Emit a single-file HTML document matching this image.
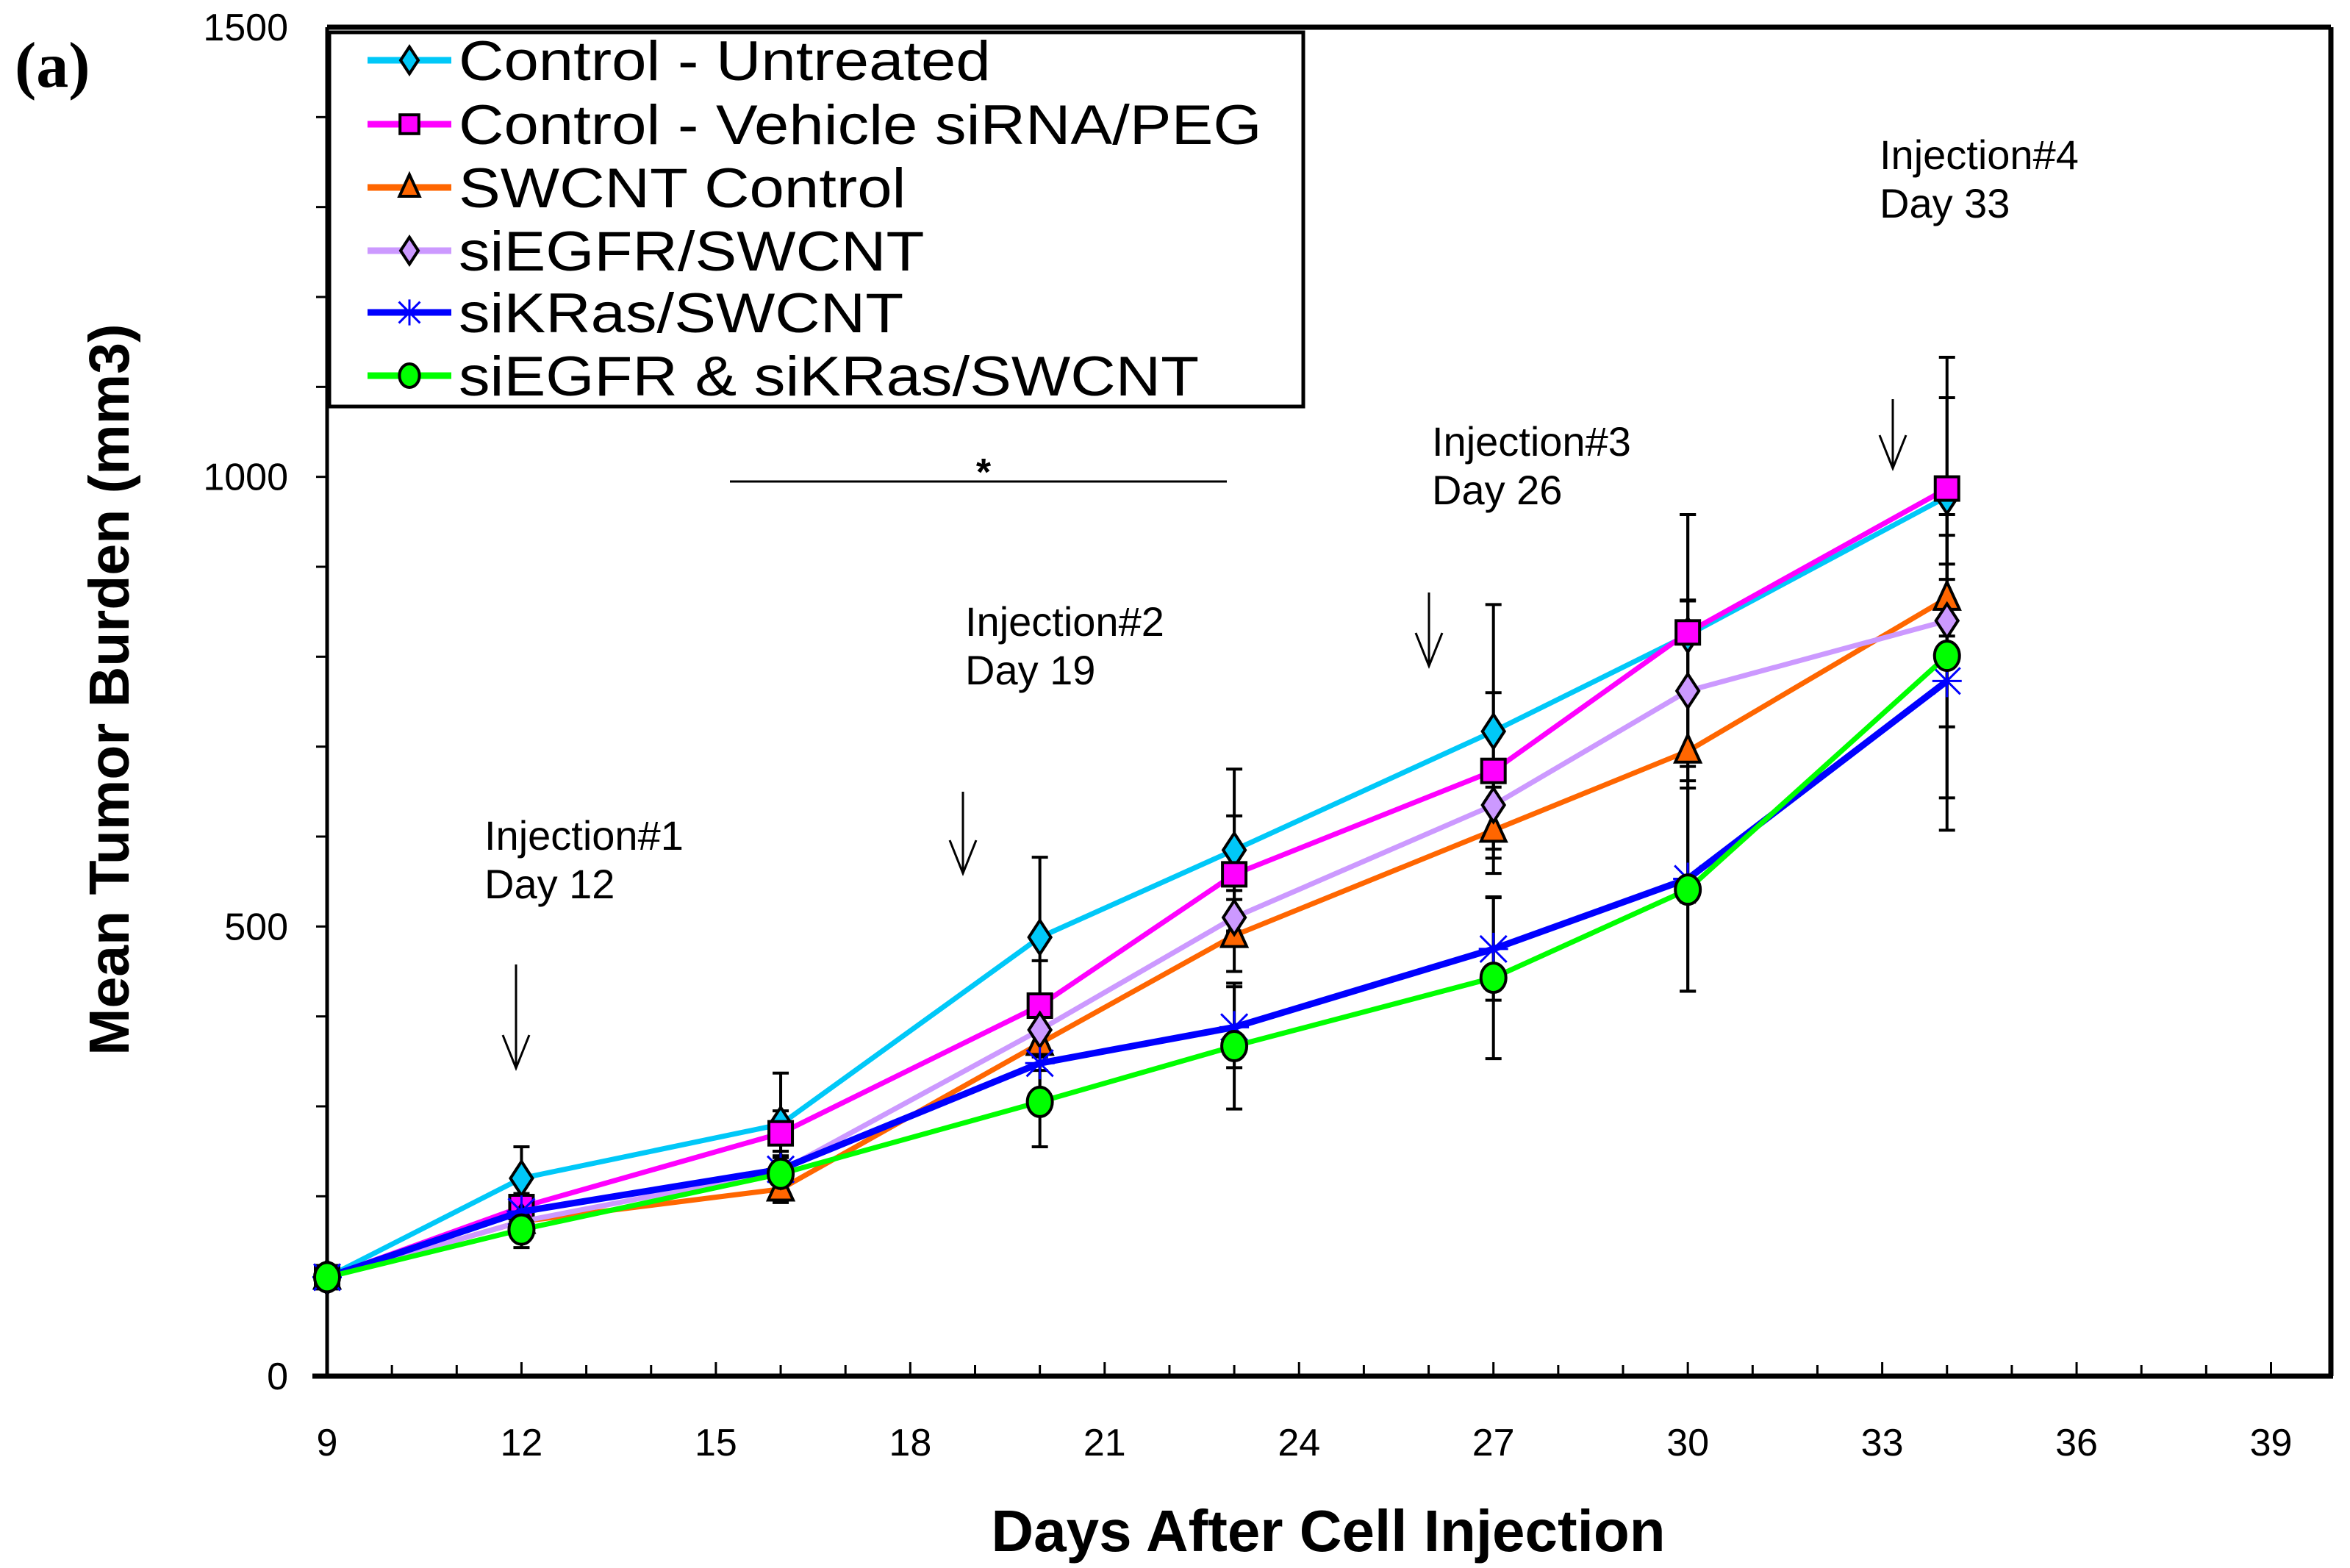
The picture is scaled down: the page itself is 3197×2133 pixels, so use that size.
<!DOCTYPE html>
<html><head><meta charset="utf-8"><style>
html,body{margin:0;padding:0;background:#fff;}
svg{display:block;}
</style></head><body>
<svg id="chart" width="3197" height="2133" viewBox="0 0 3197 2133" xmlns="http://www.w3.org/2000/svg" font-family="Liberation Sans, sans-serif">
<g id="frame"></g>
<g id="axes"></g>
<g id="annot"></g>
<g id="series"></g>
<g id="legend"></g>
</svg>
<script>
const days = [9, 12, 16, 20, 23, 27, 30, 34];
const seriesNames = ["Control - Untreated","Control - Vehicle siRNA/PEG","SWCNT Control","siEGFR/SWCNT","siKRas/SWCNT","siEGFR & siKRas/SWCNT"];
const untreated = [110, 220, 280, 488, 585, 717, 824, 978];
const vehicle   = [110, 188, 270, 412, 558, 673, 827, 987];
const swcnt     = [110, 172, 208, 370, 490, 607, 695, 865];
const siegfr    = [110, 172, 228, 385, 510, 635, 762, 840];
const sikras    = [110, 183, 230, 348, 388, 475, 553, 773];
const combo     = [110, 163, 225, 305, 367, 443, 541, 801];
const errUntreated = [0, 35, 57, 89, 90, 141, 134, 155];
const errVehicle   = [0, 15, 25, 50, 65, 87, 131, 101];
const errSwcnt     = [0, 10, 15, 30, 40, 48, 168, 70];
const errSiegfr    = [0, 10, 15, 20, 30, 35, 100, 118];
const errSikras    = [0, 10, 20, 30, 45, 57, 125, 130];
const errCombo     = [0, 20, 25, 50, 70, 90, 113, 194];
const xTicks = [9,12,15,18,21,24,27,30,33,36,39];
const yTicks = [0,500,1000,1500];

const NS="http://www.w3.org/2000/svg";
const X0=445,XR=3171,Y0=1872,Y1=37,DX=88.15;
const xs=d=>X0+(d-9)*DX;
const ys=v=>Y0-v*(Y0-Y1)/1500;
function mk(tag,attrs,parent){const e=document.createElementNS(NS,tag);for(const k in attrs)e.setAttribute(k,attrs[k]);parent.appendChild(e);return e;}
const frame=document.getElementById('frame'),axes=document.getElementById('axes'),annot=document.getElementById('annot'),ser=document.getElementById('series'),leg=document.getElementById('legend');

let l;
l=mk('line',{x1:X0,y1:Y1,x2:XR,y2:Y1,stroke:'#000','stroke-width':7},frame);

l=mk('line',{x1:XR,y1:Y1,x2:XR,y2:Y0,stroke:'#000','stroke-width':7},frame);

l=mk('line',{x1:X0-20,y1:Y0,x2:XR+3,y2:Y0,stroke:'#000','stroke-width':7},frame);

l=mk('line',{x1:X0,y1:Y1,x2:X0,y2:Y0,stroke:'#000','stroke-width':5},frame);


for(let d=10;d<=39;d++){const major=(d%3===0);
 const t=mk('line',{x1:xs(d),x2:xs(d),y1:Y0,y2:Y0-(major?19:15),stroke:'#000','stroke-width':3},axes);
 }
xTicks.forEach(d=>{const t=mk('text',{x:xs(d),y:1980,'font-size':52,'text-anchor':'middle'},axes);t.textContent=d;
 });
for(let v=100;v<1500;v+=100){const t=mk('line',{x1:X0-15,x2:X0,y1:ys(v),y2:ys(v),stroke:'#000','stroke-width':3},axes);
 }
yTicks.forEach(v=>{const t=mk('text',{x:392,y:ys(v)+18,'font-size':52,'text-anchor':'end'},axes);t.textContent=v;
 });
let t=mk('text',{x:1807,y:2110,'font-size':80,'font-weight':'bold','text-anchor':'middle'},axes);t.textContent='Days After Cell Injection';

t=mk('text',{x:0,y:0,'font-size':77,'font-weight':'bold','text-anchor':'middle',transform:'translate(175,938) rotate(-90)'},axes);t.textContent='Mean Tumor Burden (mm3)';

t=mk('text',{x:20,y:118,'font-size':88,'font-weight':'bold','font-family':'Liberation Serif, serif'},axes);t.textContent='(a)';


const inj=[["Injection#1","Day 12",659,1156,702,1312,1453],["Injection#2","Day 19",1313,865,1310,1077,1188],["Injection#3","Day 26",1948,620,1944,806,906],["Injection#4","Day 33",2557,230,2575,543,637]];
inj.forEach((a,i)=>{
 const g=mk('g',{},annot);
 const a1=mk('text',{x:a[2],y:a[3],'font-size':56},g);a1.textContent=a[0];
 const a2=mk('text',{x:a[2],y:a[3]+66,'font-size':56},g);a2.textContent=a[1];
 mk('line',{x1:a[4],y1:a[5],x2:a[4],y2:a[6],stroke:'#000','stroke-width':3},g);
 mk('polyline',{points:`${a[4]-18},${a[6]-45} ${a[4]},${a[6]} ${a[4]+18},${a[6]-45}`,fill:'none',stroke:'#000','stroke-width':3},g);
});
l=mk('line',{x1:993,y1:655,x2:1669,y2:655,stroke:'#000','stroke-width':3},annot);

t=mk('text',{x:1338,y:660,'font-size':52,'font-weight':'bold','text-anchor':'middle'},annot);t.textContent='*';


const S=[
 {v:untreated,e:errUntreated,c:'#00c8f8',m:'diamond',f:'#00c8f8',w:7},
 {v:vehicle,e:errVehicle,c:'#ff00ff',m:'square',f:'#ff00ff',w:7},
 {v:swcnt,e:errSwcnt,c:'#ff6600',m:'triangle',f:'#ff6600',w:7},
 {v:siegfr,e:errSiegfr,c:'#cc99ff',m:'diamond',f:'#cc99ff',w:7},
 {v:sikras,e:errSikras,c:'#0000ff',m:'star',f:'#0000ff',w:9},
 {v:combo,e:errCombo,c:'#00ff00',m:'circle',f:'#00ff00',w:7}];
const slug=['control-untreated','control-vehicle','swcnt-control','siegfr-swcnt','sikras-swcnt','siegfr-sikras-swcnt'];
function marker(g,type,x,y,fill,size){
 const s=size;
 if(type==='diamond')return mk('polygon',{points:`${x},${y-s*1.15} ${x+s*0.75},${y} ${x},${y+s*1.15} ${x-s*0.75},${y}`,fill:fill,stroke:'#000','stroke-width':4},g);
 if(type==='square')return mk('rect',{x:x-s*0.8,y:y-s*0.8,width:s*1.6,height:s*1.6,fill:fill,stroke:'#000','stroke-width':4},g);
 if(type==='triangle')return mk('polygon',{points:`${x},${y-s*1.1} ${x+s*0.85},${y+s*0.75} ${x-s*0.85},${y+s*0.75}`,fill:fill,stroke:'#000','stroke-width':4},g);
 if(type==='circle')return mk('ellipse',{cx:x,cy:y,rx:s*0.85,ry:s*1.0,fill:fill,stroke:'#000','stroke-width':4},g);
 return mk('path',{d:`M${x-s*0.9},${y-s*0.9}L${x+s*0.9},${y+s*0.9}M${x-s*0.9},${y+s*0.9}L${x+s*0.9},${y-s*0.9}M${x},${y-s*1.1}L${x},${y+s*1.1}M${x-s},${y}L${x+s},${y}`,stroke:fill,'stroke-width':3,fill:'none'},g);
}
S.forEach((s,i)=>{
 const g=mk('g',{},ser);
 days.forEach((d,j)=>{if(!s.e[j])return;const x=xs(d),yt=ys(s.v[j]+s.e[j]),yb=ys(s.v[j]-s.e[j]);
  mk('line',{x1:x,x2:x,y1:yt,y2:yb,stroke:'#000','stroke-width':4},g);
  mk('line',{x1:x-11,x2:x+11,y1:yt,y2:yt,stroke:'#000','stroke-width':4},g);
  mk('line',{x1:x-11,x2:x+11,y1:yb,y2:yb,stroke:'#000','stroke-width':4},g);});
});
S.forEach((s,i)=>{
 const g=mk('g',{},ser);
 const pl=mk('polyline',{points:days.map((d,j)=>xs(d)+','+ys(s.v[j])).join(' '),fill:'none',stroke:s.c,'stroke-width':s.w,'stroke-linejoin':'round'},g);
 
 days.forEach((d,j)=>{const m=marker(g,s.m,xs(d),ys(s.v[j]),s.f,20);
  });
});

const lb=mk('rect',{x:448,y:44,width:1325,height:509,fill:'#fff',stroke:'#000','stroke-width':5},leg);

const rows=[82,169,255,341,425,511];
S.forEach((s,i)=>{
 const g=mk('g',{},leg);
 const y=rows[i];
 mk('line',{x1:500,x2:614,y1:y,y2:y,stroke:s.c,'stroke-width':9},g);
 marker(g,s.m,557,y,s.f,16);
 const tx=mk('text',{x:0,y:0,'font-size':76,transform:`translate(624,${y+27}) scale(1.12,1)`},g);tx.textContent=seriesNames[i];
});
</script>
</body></html>
